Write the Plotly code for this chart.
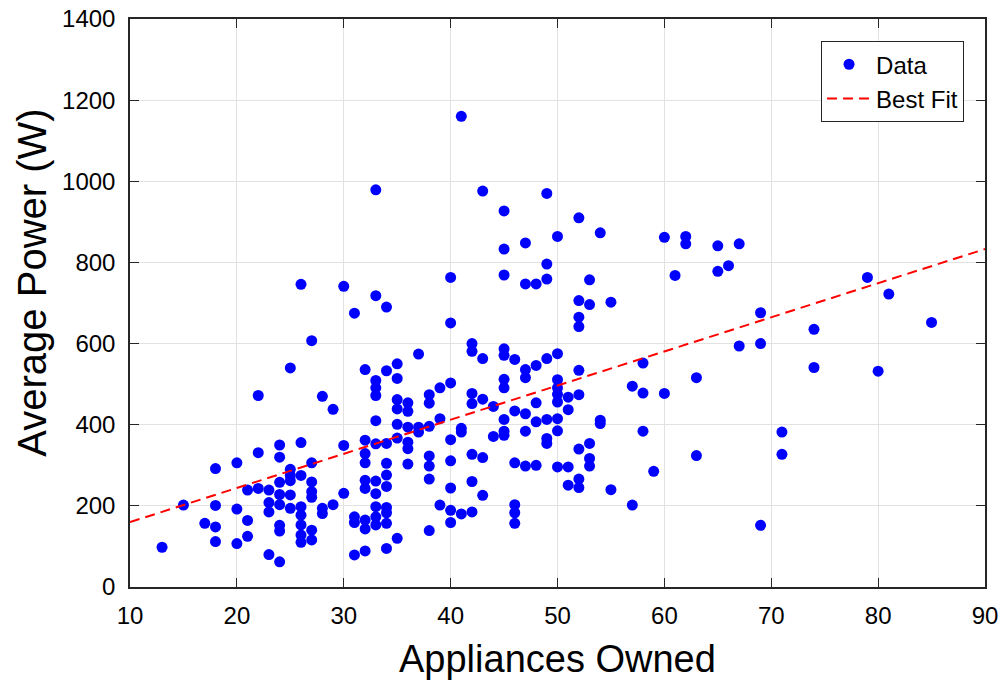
import plotly.graph_objects as go

# Scatter data
appliances_owned = (
    [13] + [15] + [17] + [18]*4 + [20]*3 + [21]*3 + [22]*3 + [23]*4 + [24]*8 + [25]*6
    + [26]*8 + [27]*7 + [28]*3 + [29]*2 + [30]*3 + [31]*4 + [32]*9 + [33]*12 + [34]*10
    + [35]*7 + [36]*6 + [37]*3 + [38]*7 + [39]*3 + [40]*8 + [41]*4 + [42]*7 + [43]*5
    + [44]*2 + [45]*10 + [46]*6 + [47]*7 + [48]*5 + [49]*7 + [50]*9 + [51]*4 + [52]*9
    + [53]*5 + [54]*3 + [55]*2 + [57]*2 + [58]*3 + [59] + [60]*2 + [61] + [62]*2
    + [63]*2 + [65]*2 + [66] + [67]*2 + [69]*3 + [71]*2 + [74]*2 + [79] + [80] + [81] + [85]
)

average_power = [
    98,
    202,
    157,
    292, 201, 148, 112,
    306, 192, 107,
    239, 164, 125,
    472, 331, 243,
    239, 208, 185, 80,
    350, 320, 258, 228, 203, 152, 138, 62,
    540, 290, 275, 262, 227, 194,
    746, 356, 275, 198, 177, 153, 128, 110,
    607, 306, 259, 235, 221, 140, 116,
    470, 194, 181,
    438, 203,
    741, 349, 231,
    675, 173, 159, 79,
    536, 362, 329, 306, 263, 243, 165, 143, 89,
    979, 718, 509, 491, 472, 410, 353, 261, 230, 198, 173, 153,
    690, 533, 354, 305, 276, 248, 196, 183, 157, 95,
    550, 514, 462, 439, 401, 367, 120,
    454, 433, 394, 357, 341, 303,
    574, 394, 382,
    474, 453, 396, 323, 298, 266, 139,
    491, 415, 202,
    763, 651, 503, 363, 311, 244, 189, 159,
    1160, 391, 382, 180,
    600, 581, 477, 452, 327, 260, 185,
    976, 563, 463, 319, 226,
    445, 371,
    927, 833, 769, 587, 571, 512, 491, 413, 384, 374,
    561, 434, 306, 203, 183, 157,
    848, 747, 536, 516, 427, 384, 298,
    747, 546, 454, 407, 300,
    970, 796, 759, 563, 413, 366, 354,
    864, 575, 511, 491, 475, 456, 415, 385, 296,
    468, 437, 296, 251,
    910, 706, 665, 642, 534, 474, 340, 266, 245,
    757, 696, 354, 317, 298,
    873, 411, 403,
    702, 240,
    495, 202,
    552, 478, 384,
    285,
    862, 477,
    768,
    864, 846,
    516, 324,
    841, 778,
    792,
    846, 594,
    676, 600, 152,
    382, 327,
    635, 541,
    763,
    532,
    722,
    652,
]

# Best-fit line endpoints
fit_x = [10, 90]
fit_y = [160, 833]

x_ticks = [10, 20, 30, 40, 50, 60, 70, 80, 90]
y_ticks = [0, 200, 400, 600, 800, 1000, 1200, 1400]

FONT = "Liberation Sans, Arial, sans-serif"

fig = go.Figure()
fig.add_trace(go.Scatter(
    x=appliances_owned, y=average_power, mode="markers", name="Data",
    marker=dict(color="#0000FF", size=11, line=dict(width=0)),
))
fig.add_trace(go.Scatter(
    x=fit_x, y=fit_y, mode="lines", name="Best Fit",
    line=dict(color="#FF0000", width=2, dash="10px,6px"),
))

axis_common = dict(
    showline=True, linecolor="#262626", linewidth=1.5, mirror="ticks",
    ticks="inside", ticklen=9, tickwidth=1.2, tickcolor="#262626",
    showgrid=True, gridcolor="#e2e2e2", gridwidth=1, zeroline=False,
    automargin=False,
    tickfont=dict(family=FONT, size=24, color="#000000"),
)

fig.update_layout(
    width=1006, height=680,
    margin=dict(l=130, r=21, t=19, b=93),
    paper_bgcolor="white", plot_bgcolor="white",
    font=dict(family=FONT, color="#000000"),
    xaxis=dict(range=[10, 90], tickvals=x_ticks, ticklabelstandoff=6, **axis_common),
    yaxis=dict(range=[0, 1400], tickvals=y_ticks, ticklabelstandoff=8, **axis_common),
    showlegend=True,
    legend=dict(
        x=0.9755, y=0.961, xanchor="right", yanchor="top",
        bgcolor="white", bordercolor="#262626", borderwidth=1,
        font=dict(family=FONT, size=24, color="#000000"),
        tracegroupgap=0, itemwidth=44,
    ),
    annotations=[
        dict(text="Appliances Owned", xref="paper", yref="paper", x=0.5, y=-0.086,
             xanchor="center", yanchor="top", showarrow=False,
             font=dict(family=FONT, size=38, color="#000000")),
        dict(text="Average Power (W)", xref="paper", yref="paper", x=-0.114, y=0.535,
             xanchor="center", yanchor="middle", textangle=-90, showarrow=False,
             font=dict(family=FONT, size=40, color="#000000")),
    ],
)

fig.write_html("out.html")
